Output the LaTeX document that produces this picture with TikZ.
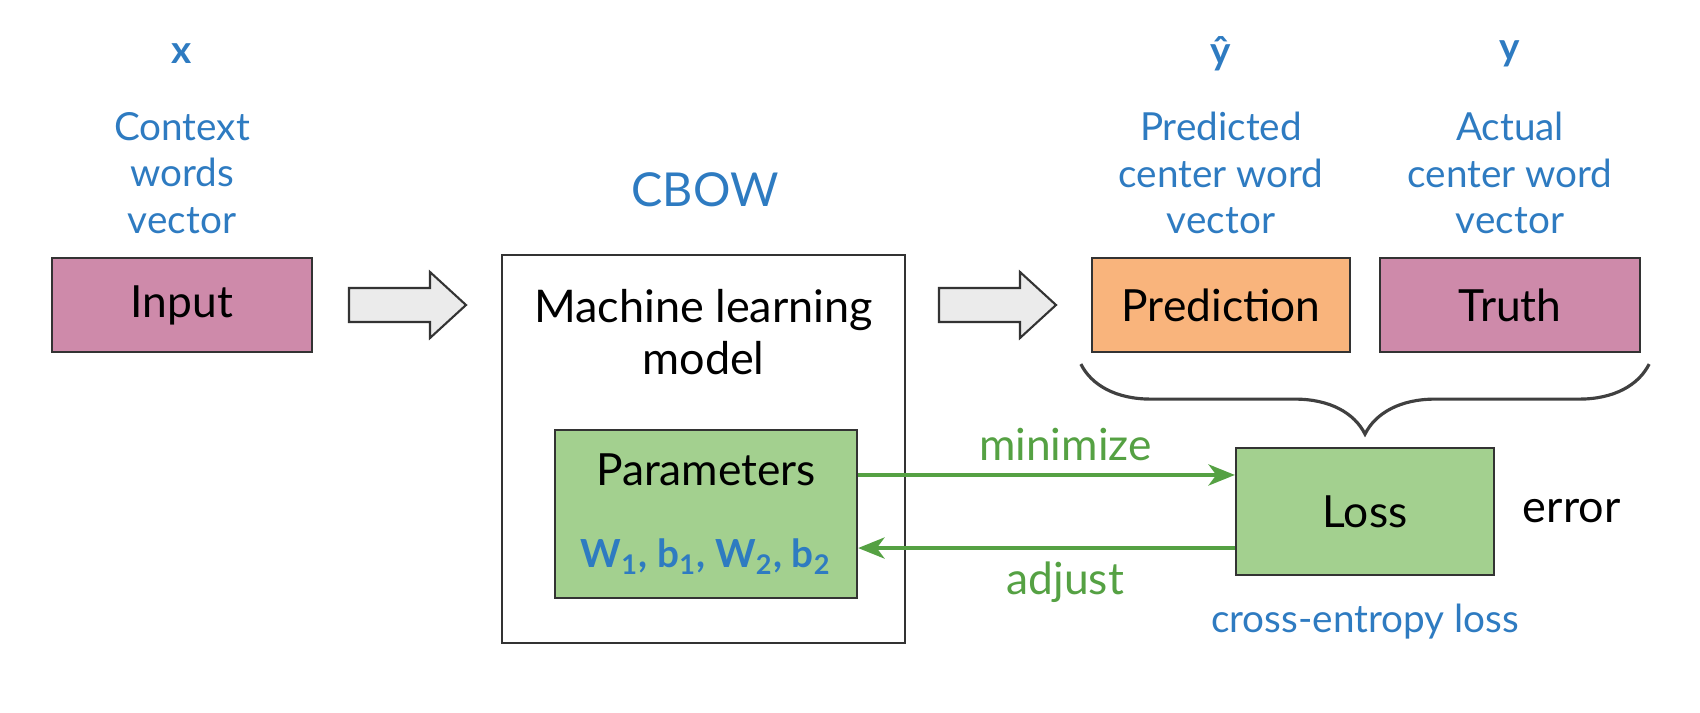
\documentclass[tikz,border=0pt]{standalone}
\usepackage{fontspec}
\usepackage{xcolor}
\setmainfont{Lato}
\usetikzlibrary{positioning,arrows.meta,decorations.pathreplacing}
\definecolor{boxpink}{HTML}{CE8AAA}
\definecolor{boxorange}{HTML}{F9B47C}
\definecolor{boxgreen}{HTML}{A3D08F}
\definecolor{labelblue}{HTML}{2E7BC1}
\definecolor{labelgreen}{HTML}{55A143}
\tikzset{
    plain-box/.style = {draw=black!80, line width=0.6pt, rectangle, inner sep=0pt, align=center, font=\fontsize{12.6}{14.5}\selectfont},
    pink-box/.style = {plain-box, fill=boxpink, minimum width=2.6cm, minimum height=0.94cm},
    orange-box/.style = {plain-box, fill=boxorange, minimum width=2.58cm, minimum height=0.94cm},
    green-box/.style = {plain-box, fill=boxgreen},
    black-text/.style = {inner sep=0pt, align=center, font=\fontsize{12.8}{14.8}\selectfont},
    blue-text/.style = {inner sep=0pt, align=center, text=labelblue, font=\fontsize{11}{13.2}\selectfont},
    blue-sym/.style = {inner sep=0pt, text=labelblue, font=\fontsize{11}{13.2}\selectfont\bfseries},
    green-text/.style = {inner sep=0pt, text=labelgreen, font=\fontsize{12.6}{14.5}\selectfont},
    green-arrow/.style = {draw=labelgreen, line width=1.1pt, -{Stealth[length=7.5pt, width=6pt, inset=2.2pt]}},
    block-arrow/.style = {draw=black!80, fill=black!8, line width=0.6pt, line join=miter},
}

\begin{document}
\begin{tikzpicture}[x=0.01cm, y=-0.01cm]
\useasboundingbox (0,0) rectangle (1700,712);

% boxes
\node[pink-box] (input) at (182,305) {Input};
\node[plain-box, minimum width=4.03cm, minimum height=3.88cm] (model) at (703.5,449) {};
\node[black-text, below=0.35cm of model.north] (model-title) {Machine learning\\model};
\node[green-box, minimum width=3.02cm, minimum height=1.68cm] (params) at (706,514)
    {Parameters\\[9pt]{\color{labelblue}\fontsize{11}{13}\selectfont\bfseries W\textsubscript{1}, b\textsubscript{1}, W\textsubscript{2}, b\textsubscript{2}}};
\node[orange-box] (pred) at (1221,305) {Prediction};
\node[pink-box] (truth) at (1510,305) {Truth};
\node[green-box, minimum width=2.58cm, minimum height=1.27cm] (loss) at (1365,511.5) {Loss};
\node[black-text, right=0.27cm of loss] (error) {error};
\node[blue-text, below=0.27cm of loss] (ce-loss) {cross-entropy loss};

% labels on top
\node[blue-sym] (x-sym) at (182,54) {x};
\node[blue-text] (context) at (182,173) {Context\\words\\vector};
\node[blue-text, font=\fontsize{13.3}{15}\selectfont] (cbow) at (705,190) {CBOW};
\node[blue-sym] (yhat-sym) at (1221,54) {\^y};
\node[blue-text] (predicted) at (1221,173) {Predicted\\center word\\vector};
\node[blue-sym] (y-sym) at (1510,54) {y};
\node[blue-text] (actual) at (1510,173) {Actual\\center word\\vector};

% block arrows
\coordinate (arrow-a) at (349,305);
\coordinate (arrow-b) at (939,305);
\foreach \c in {arrow-a, arrow-b}
    \draw[block-arrow] (\c) ++(0,-17) -- ++(81,0) -- ++(0,-16) -- ++(36,33) -- ++(-36,33) -- ++(0,-16) -- ++(-81,0) -- cycle;

% brace
\draw[draw=black!75, line width=0.9pt, decorate, decoration={brace, mirror, amplitude=0.7cm}]
    ([shift={(-10,11)}]pred.south west) -- ([shift={(8,11)}]truth.south east);

% minimize / adjust
\draw[green-arrow] ([yshift=0.39cm]params.east) -- ([yshift=0.39cm]params.east -| loss.west)
    node[green-text, pos=0.55, above=0.12cm] (minimize) {minimize};
\draw[green-arrow] ([yshift=-0.365cm]loss.west) -- ([yshift=-0.365cm]loss.west -| params.east)
    node[green-text, pos=0.45, below=0.12cm] (adjust) {adjust};
\end{tikzpicture}
\end{document}
